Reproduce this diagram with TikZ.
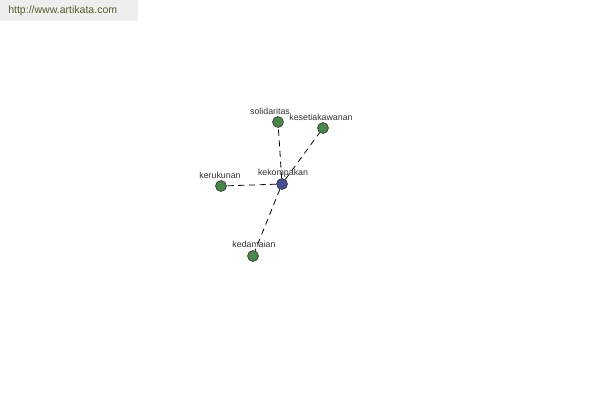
\documentclass[tikz,border=0pt]{standalone}
\usepackage{fontspec}
\setmainfont{Liberation Sans}
\definecolor{nodegreen}{RGB}{74,134,74}
\definecolor{nodeblue}{RGB}{72,76,150}
\definecolor{urlgreen}{RGB}{80,96,48}
\definecolor{urlbg}{RGB}{238,238,238}
\begin{document}
\begin{tikzpicture}[x=0.75pt,y=-0.75pt,
  dot/.style={circle,draw=black!80,line width=0.5pt,fill=nodegreen,minimum size=8.2pt,inner sep=0pt},
  hub/.style={dot,fill=nodeblue},
  lbl/.style={font=\fontsize{6.6}{7}\selectfont,text=black!80,inner sep=0pt},
  link/.style={dashed,dash pattern=on 4.5pt off 3.5pt,line width=0.6pt,black}]
\useasboundingbox (0,0) rectangle (600,400);
\fill[white] (0,0) rectangle (600,400);
\fill[urlbg] (0,0) rectangle (138,21);
\node[anchor=west,font=\fontsize{7.9}{9}\selectfont,text=urlgreen,inner sep=0pt] (url) at (8,11) {http://www.artikata.com};
\node[hub] (c) at (282,184) {};
\node[dot] (s) at (278,122) {};
\node[dot] (k) at (323,128) {};
\node[dot] (r) at (221,186) {};
\node[dot] (d) at (253,256) {};
\node[lbl] (lc) at (283,173) {kekompakan};
\node[lbl] (ls) at (270,111) {solidaritas};
\node[lbl] (lk) at (321,117) {kesetiakawanan};
\node[lbl] (lr) at (220,175) {kerukunan};
\node[lbl] (ld) at (254,244) {kedamaian};
\draw[link] (c) -- (s);
\draw[link] (c) -- (k);
\draw[link] (c) -- (r);
\draw[link] (c) -- (d);
\end{tikzpicture}
\end{document}
